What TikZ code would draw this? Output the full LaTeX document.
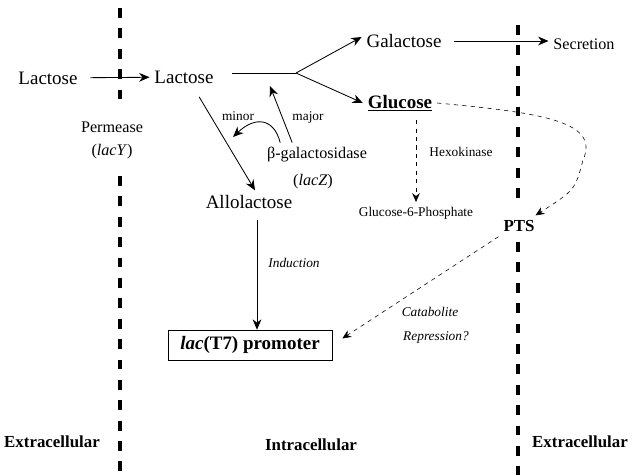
\documentclass[tikz,border=0pt]{standalone}
\usepackage{fontspec}
\setmainfont{Liberation Serif}
\usetikzlibrary{arrows.meta, positioning}

\begin{document}
\begin{tikzpicture}[x=0.025cm, y=-0.025cm,
        big/.style={font=\fontsize{13.5}{16}\selectfont},
        mid/.style={font=\fontsize{11.5}{14}\selectfont},
        sml/.style={font=\fontsize{9.5}{11}\selectfont},
        region/.style={font=\fontsize{12}{14}\selectfont\bfseries},
        arr/.style={-{Stealth[length=2.6mm, width=2.2mm]}, semithick},
        darr/.style={-{Stealth[length=2.2mm, width=1.9mm]}, dashed, thin},
        membrane/.style={line width=2.4pt, dash pattern=on 7pt off 7.5pt}
    ]
        \useasboundingbox (0,0) rectangle (636,475);
        \draw[membrane] (120,8) -- (120,106);
        \draw[membrane] (120,176) -- (120,475);
        \draw[membrane] (518,25) -- (518,205);
        \draw[membrane] (518,242) -- (518,475);

        \node[big] (lacout) at (48,78) {Lactose};
        \node[big] (lacin) at (184,77) {Lactose};
        \node[mid] (perm) at (112,127) {Permease};
        \node[mid, below=0.05cm of perm] (lacy) {(\textit{lacY})};
        \node[big] (gal) at (404,41) {Galactose};
        \node[mid] (sec) at (584,44) {Secretion};
        \node[big] (glc) at (400,103) {\underline{\textbf{Glucose}}};
        \node[mid] (bgal) at (317,155) {β-galactosidase};
        \node[mid, below=0.05cm of bgal, xshift=-0.1cm] (lacz) {(\textit{lacZ})};
        \node[sml] (major) at (308,117) {major};
        \node[sml] (minor) at (238,116) {minor};
        \node[big] (allo) at (249,202) {Allolactose};
        \node[sml] (hexo) at (461,152) {Hexokinase};
        \node[sml] (g6p) at (416,213) {Glucose-6-Phosphate};
        \node[region] (pts) at (519,226) {PTS};
        \node[sml, font=\fontsize{9.5}{11}\selectfont\itshape] (induc) at (294,263) {Induction};
        \node[draw, thin, minimum width=4.1cm, minimum height=0.75cm,
              font=\fontsize{13.5}{16}\selectfont\bfseries] (prom) at (250,345)
              {\textit{lac}(T7) promoter};
        \node[sml, font=\fontsize{9.5}{11}\selectfont\itshape] (catab) at (430,312) {Catabolite};
        \node[sml, font=\fontsize{9.5}{11}\selectfont\itshape] (repr) at (436,337) {Repression?};
        \node[region] (extl) at (52,442) {Extracellular};
        \node[region] (intr) at (311,445) {Intracellular};
        \node[region] (extr) at (580,442) {Extracellular};

        \coordinate (lstart) at (232,73);
        \coordinate (split) at (296,73);
        \coordinate (majtip) at (270,86);
        \coordinate (mintip) at (233,137);

        \draw[arr, shorten <=2mm] (lacout) -- (lacin);
        \draw[semithick] (lstart) -- (split);
        \draw[arr] (split) -- ([yshift=0.1cm]gal.west);
        \draw[arr] (split) -- (glc.west);
        \draw[arr, shorten <=2mm] (gal.east) -- (sec.west |- gal.east);
        \draw[arr] ([xshift=-0.62cm]bgal.north) -- (majtip);
        \draw[arr] ([xshift=-0.92cm]bgal.north) .. controls (274,118) and (255,116) .. (mintip);
        \draw[arr, shorten <=2.5mm] ([xshift=0.25cm]lacin.south) -- ([xshift=0.15cm]allo.north);
        \draw[arr, shorten <=1.5mm] ([xshift=0.2cm]allo.south) -- ([xshift=0.2cm]allo.south |- prom.north);
        \draw[darr, shorten <=1mm] (glc.south -| g6p.north) -- (g6p.north);
        \draw[darr] (glc.east) .. controls (545,113) and (600,122) .. (583,160)
            .. controls (575,190) .. (pts);
        \draw[darr, shorten >=3mm] (pts.south west) -- (prom.east);
    \end{tikzpicture}
\end{document}
